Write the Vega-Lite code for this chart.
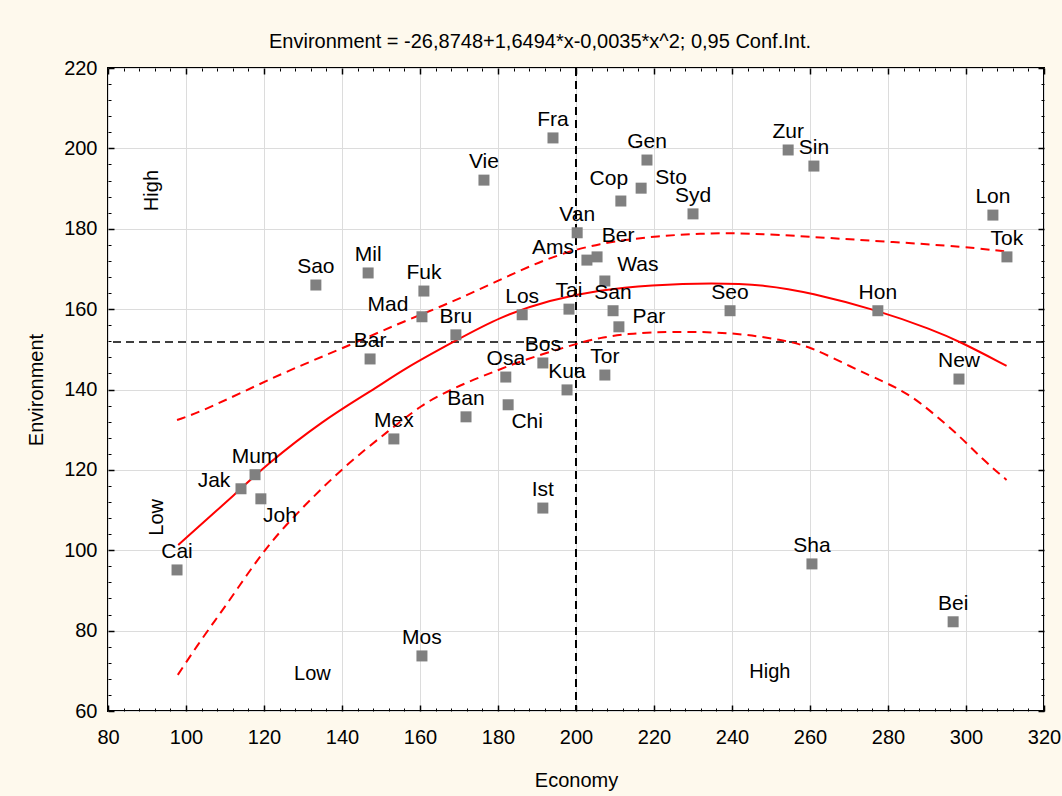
{
  "$schema": "https://vega.github.io/schema/vega-lite/v6.json",
  "width": 936,
  "height": 643,
  "autosize": "none",
  "padding": {"left": 108, "top": 68, "right": 18, "bottom": 85},
  "background": "#FEF9ED",
  "title": {
    "text": "Environment = -26,8748+1,6494*x-0,0035*x^2; 0,95 Conf.Int.",
    "font": "Liberation Sans",
    "fontSize": 20,
    "fontWeight": "normal",
    "color": "black",
    "anchor": "middle",
    "baseline": "alphabetic",
    "dx": -36,
    "dy": 30,
    "offset": 20
  },
  "config": {
    "view": {"fill": "white", "stroke": "black", "strokeWidth": 2},
    "axis": {
      "labelFont": "Liberation Sans",
      "labelFontSize": 20,
      "labelColor": "black",
      "titleFont": "Liberation Sans",
      "titleFontSize": 20,
      "titleFontWeight": "normal",
      "titleColor": "black",
      "domain": false,
      "tickColor": "black"
    },
    "text": {"font": "Liberation Sans", "fontSize": 21, "color": "black"}
  },
  "datasets": {
    "cities": [
      {"name": "Cai", "economy": 97.7, "environment": 95.1},
      {"name": "Jak", "economy": 114.1, "environment": 115.3},
      {"name": "Mum", "economy": 117.7, "environment": 118.8},
      {"name": "Joh", "economy": 119.2, "environment": 112.8},
      {"name": "Sao", "economy": 133.3, "environment": 166},
      {"name": "Mil", "economy": 146.7, "environment": 169},
      {"name": "Bar", "economy": 147.2, "environment": 147.6},
      {"name": "Mex", "economy": 153.3, "environment": 127.7},
      {"name": "Fuk", "economy": 161, "environment": 164.5},
      {"name": "Mad", "economy": 160.5, "environment": 158.1},
      {"name": "Mos", "economy": 160.5, "environment": 73.7},
      {"name": "Bru", "economy": 169.2, "environment": 153.6},
      {"name": "Ban", "economy": 171.8, "environment": 133.2},
      {"name": "Vie", "economy": 176.4, "environment": 192.1},
      {"name": "Osa", "economy": 182, "environment": 143.1},
      {"name": "Chi", "economy": 182.6, "environment": 136.2},
      {"name": "Los", "economy": 186.2, "environment": 158.6},
      {"name": "Fra", "economy": 194.1, "environment": 202.6},
      {"name": "Bos", "economy": 191.5, "environment": 146.6},
      {"name": "Ist", "economy": 191.5, "environment": 110.5},
      {"name": "Kua", "economy": 197.7, "environment": 139.9},
      {"name": "Tai", "economy": 198.2, "environment": 160},
      {"name": "Van", "economy": 200.3, "environment": 179},
      {"name": "Ams", "economy": 202.8, "environment": 172.2},
      {"name": "Ber", "economy": 205.4, "environment": 173},
      {"name": "Was", "economy": 207.4, "environment": 167},
      {"name": "Tor", "economy": 207.4, "environment": 143.6},
      {"name": "San", "economy": 209.5, "environment": 159.6},
      {"name": "Par", "economy": 211, "environment": 155.6},
      {"name": "Cop", "economy": 211.5, "environment": 186.9},
      {"name": "Sto", "economy": 216.7, "environment": 190.1},
      {"name": "Gen", "economy": 218.2, "environment": 197.1},
      {"name": "Syd", "economy": 230, "environment": 183.7},
      {"name": "Seo", "economy": 239.5, "environment": 159.6},
      {"name": "Zur", "economy": 254.4, "environment": 199.6},
      {"name": "Sin", "economy": 261, "environment": 195.6},
      {"name": "Sha", "economy": 260.5, "environment": 96.6},
      {"name": "Hon", "economy": 277.4, "environment": 159.6},
      {"name": "Bei", "economy": 296.7, "environment": 82.2},
      {"name": "New", "economy": 298.2, "environment": 142.6},
      {"name": "Lon", "economy": 306.9, "environment": 183.4},
      {"name": "Tok", "economy": 310.5, "environment": 173}
    ],
    "curves": [
      {"series": "fit", "economy": 98.0, "environment": 101.3},
      {"series": "fit", "economy": 113.8, "environment": 115.0},
      {"series": "fit", "economy": 119.8, "environment": 120.6},
      {"series": "fit", "economy": 135.2, "environment": 132.4},
      {"series": "fit", "economy": 148.0, "environment": 139.9},
      {"series": "fit", "economy": 156.0, "environment": 145.2},
      {"series": "fit", "economy": 169.4, "environment": 152.3},
      {"series": "fit", "economy": 180.5, "environment": 158.1},
      {"series": "fit", "economy": 193.3, "environment": 162.3},
      {"series": "fit", "economy": 206.2, "environment": 164.8},
      {"series": "fit", "economy": 219.0, "environment": 166.0},
      {"series": "fit", "economy": 235.0, "environment": 166.6},
      {"series": "fit", "economy": 248.9, "environment": 166.0},
      {"series": "fit", "economy": 260.0, "environment": 164.1},
      {"series": "fit", "economy": 277.1, "environment": 159.8},
      {"series": "fit", "economy": 291.6, "environment": 154.8},
      {"series": "fit", "economy": 298.5, "environment": 151.9},
      {"series": "fit", "economy": 310.4, "environment": 145.9},
      {"series": "upper", "economy": 97.7, "environment": 132.4},
      {"series": "upper", "economy": 103.6, "environment": 134.4},
      {"series": "upper", "economy": 114.6, "environment": 139.4},
      {"series": "upper", "economy": 126.7, "environment": 144.9},
      {"series": "upper", "economy": 140.3, "environment": 150.3},
      {"series": "upper", "economy": 154.9, "environment": 156.6},
      {"series": "upper", "economy": 167.7, "environment": 161.5},
      {"series": "upper", "economy": 180.5, "environment": 167.3},
      {"series": "upper", "economy": 193.3, "environment": 173.0},
      {"series": "upper", "economy": 206.2, "environment": 176.5},
      {"series": "upper", "economy": 219.0, "environment": 178.0},
      {"series": "upper", "economy": 231.8, "environment": 178.9},
      {"series": "upper", "economy": 245.0, "environment": 178.9},
      {"series": "upper", "economy": 260.0, "environment": 178.0},
      {"series": "upper", "economy": 279.7, "environment": 176.8},
      {"series": "upper", "economy": 300.2, "environment": 175.5},
      {"series": "upper", "economy": 310.4, "environment": 174.3},
      {"series": "lower", "economy": 97.9, "environment": 69.0},
      {"series": "lower", "economy": 104.4, "environment": 78.5},
      {"series": "lower", "economy": 109.5, "environment": 85.2},
      {"series": "lower", "economy": 115.6, "environment": 93.9},
      {"series": "lower", "economy": 121.5, "environment": 101.8},
      {"series": "lower", "economy": 128.5, "environment": 109.3},
      {"series": "lower", "economy": 140.3, "environment": 120.7},
      {"series": "lower", "economy": 152.3, "environment": 130.0},
      {"series": "lower", "economy": 160.8, "environment": 136.4},
      {"series": "lower", "economy": 166.0, "environment": 139.0},
      {"series": "lower", "economy": 172.0, "environment": 141.8},
      {"series": "lower", "economy": 179.0, "environment": 144.4},
      {"series": "lower", "economy": 185.0, "environment": 146.8},
      {"series": "lower", "economy": 197.6, "environment": 150.7},
      {"series": "lower", "economy": 206.2, "environment": 153.0},
      {"series": "lower", "economy": 214.7, "environment": 154.0},
      {"series": "lower", "economy": 223.3, "environment": 154.4},
      {"series": "lower", "economy": 239.5, "environment": 154.3},
      {"series": "lower", "economy": 253.2, "environment": 152.3},
      {"series": "lower", "economy": 260.0, "environment": 150.7},
      {"series": "lower", "economy": 270.3, "environment": 145.7},
      {"series": "lower", "economy": 279.7, "environment": 141.6},
      {"series": "lower", "economy": 285.6, "environment": 138.7},
      {"series": "lower", "economy": 291.6, "environment": 134.1},
      {"series": "lower", "economy": 298.5, "environment": 128.3},
      {"series": "lower", "economy": 304.4, "environment": 122.5},
      {"series": "lower", "economy": 310.4, "environment": 117.5}
    ],
    "quadrants": [
      {"label": "High", "economy": 91.2, "environment": 189.5, "dir": "vertical"},
      {"label": "Low", "economy": 92.5, "environment": 108.2, "dir": "vertical"},
      {"label": "Low", "economy": 132.4, "environment": 69.2, "dir": "horizontal"},
      {"label": "High", "economy": 249.7, "environment": 69.6, "dir": "horizontal"}
    ],
    "refs": [
      {"economy": 200, "environment": 151.8}
    ]
  },
  "resolve": {"axis": {"x": "independent", "y": "independent"}},
  "layer": [
    {
      "data": {"name": "cities"},
      "mark": {"type": "point", "opacity": 0},
      "encoding": {
        "x": {"field": "economy", "type": "quantitative",
          "scale": {"domain": [80, 320], "nice": false, "zero": false},
          "axis": {"orient": "bottom", "title": "Economy", "values": [80,100,120,140,160,180,200,220,240,260,280,300,320],
            "grid": true, "gridColor": "#DCDCDC", "gridWidth": 1, "tickSize": -6, "tickWidth": 1.5, "labelPadding": 22,
            "labelFlush": false, "titleY": 69, "titleBaseline": "middle"}},
        "y": {"field": "environment", "type": "quantitative",
          "scale": {"domain": [60, 220], "nice": false, "zero": false},
          "axis": {"orient": "left", "title": "Environment", "values": [60,80,100,120,140,160,180,200,220],
            "grid": true, "gridColor": "#DCDCDC", "gridWidth": 1, "tickSize": -6, "tickWidth": 1.5, "labelPadding": 17,
            "labelFlush": false, "titleX": -72, "titleBaseline": "middle"}}
      }
    },
    {
      "data": {"name": "cities"},
      "mark": {"type": "point", "opacity": 0},
      "encoding": {
        "x": {"field": "economy", "type": "quantitative",
          "axis": {"orient": "bottom", "title": null, "labels": false, "grid": false, "tickSize": -3, "tickWidth": 1,
            "values": [84,88,92,96,104,108,112,116,124,128,132,136,144,148,152,156,164,168,172,176,184,188,192,196,204,208,212,216,224,228,232,236,244,248,252,256,264,268,272,276,284,288,292,296,304,308,312,316]}},
        "y": {"field": "environment", "type": "quantitative",
          "axis": {"orient": "left", "title": null, "labels": false, "grid": false, "tickSize": -3, "tickWidth": 1,
            "values": [64,68,72,76,84,88,92,96,104,108,112,116,124,128,132,136,144,148,152,156,164,168,172,176,184,188,192,196,204,208,212,216]}}
      }
    },
    {
      "data": {"name": "cities"},
      "mark": {"type": "point", "opacity": 0},
      "encoding": {
        "x": {"field": "economy", "type": "quantitative",
          "axis": {"orient": "top", "title": null, "labels": false, "grid": false, "tickSize": -6, "tickWidth": 1.5,
            "values": [80,100,120,140,160,180,200,220,240,260,280,300,320]}},
        "y": {"field": "environment", "type": "quantitative",
          "axis": {"orient": "right", "title": null, "labels": false, "grid": false, "tickSize": -6, "tickWidth": 1.5,
            "values": [60,80,100,120,140,160,180,200,220]}}
      }
    },
    {
      "data": {"name": "cities"},
      "mark": {"type": "point", "opacity": 0},
      "encoding": {
        "x": {"field": "economy", "type": "quantitative",
          "axis": {"orient": "top", "title": null, "labels": false, "grid": false, "tickSize": -3, "tickWidth": 1,
            "values": [84,88,92,96,104,108,112,116,124,128,132,136,144,148,152,156,164,168,172,176,184,188,192,196,204,208,212,216,224,228,232,236,244,248,252,256,264,268,272,276,284,288,292,296,304,308,312,316]}},
        "y": {"field": "environment", "type": "quantitative",
          "axis": {"orient": "right", "title": null, "labels": false, "grid": false, "tickSize": -3, "tickWidth": 1,
            "values": [64,68,72,76,84,88,92,96,104,108,112,116,124,128,132,136,144,148,152,156,164,168,172,176,184,188,192,196,204,208,212,216]}}
      }
    },
    {
      "data": {"name": "refs"},
      "mark": {"type": "rule", "color": "black", "strokeWidth": 1.5, "strokeDash": [8, 5]},
      "encoding": {
        "y": {"field": "environment", "type": "quantitative", "axis": null}
      }
    },
    {
      "data": {"name": "refs"},
      "mark": {"type": "rule", "color": "black", "strokeWidth": 2, "strokeDash": [8, 5]},
      "encoding": {
        "x": {"field": "economy", "type": "quantitative", "axis": null}
      }
    },
    {
      "data": {"name": "curves"},
      "transform": [{"filter": "datum.series !== 'fit'"}],
      "mark": {"type": "line", "color": "#FF0000", "strokeWidth": 2, "strokeDash": [9, 6], "interpolate": "basis"},
      "encoding": {
        "x": {"field": "economy", "type": "quantitative", "axis": null},
        "y": {"field": "environment", "type": "quantitative", "axis": null},
        "detail": {"field": "series"}
      }
    },
    {
      "data": {"name": "curves"},
      "transform": [{"filter": "datum.series === 'fit'"}],
      "mark": {"type": "line", "color": "#FF0000", "strokeWidth": 2, "interpolate": "basis"},
      "encoding": {
        "x": {"field": "economy", "type": "quantitative", "axis": null},
        "y": {"field": "environment", "type": "quantitative", "axis": null}
      }
    },
    {
      "data": {"name": "cities"},
      "mark": {"type": "point", "shape": "square", "filled": true, "color": "#808080", "opacity": 1, "size": 121},
      "encoding": {
        "x": {"field": "economy", "type": "quantitative", "axis": null},
        "y": {"field": "environment", "type": "quantitative", "axis": null}
      }
    },
    {
      "data": {"name": "cities"},
      "transform": [{"filter": {"not": {"field": "name", "oneOf": ["Jak","Mad","Ams","Joh","Chi","Par","Sto","Was","Ber","Cop"]}}}],
      "mark": {"type": "text", "align": "center", "baseline": "middle", "dy": -18},
      "encoding": {
        "x": {"field": "economy", "type": "quantitative", "axis": null},
        "y": {"field": "environment", "type": "quantitative", "axis": null},
        "text": {"field": "name"}
      }
    },
    {
      "data": {"name": "cities"},
      "transform": [{"filter": {"field": "name", "oneOf": ["Jak"]}}],
      "mark": {"type": "text", "align": "center", "baseline": "middle", "dx": -27, "dy": -8},
      "encoding": {
        "x": {"field": "economy", "type": "quantitative", "axis": null},
        "y": {"field": "environment", "type": "quantitative", "axis": null},
        "text": {"field": "name"}
      }
    },
    {
      "data": {"name": "cities"},
      "transform": [{"filter": {"field": "name", "oneOf": ["Mad", "Ams"]}}],
      "mark": {"type": "text", "align": "center", "baseline": "middle", "dx": -34, "dy": -12},
      "encoding": {
        "x": {"field": "economy", "type": "quantitative", "axis": null},
        "y": {"field": "environment", "type": "quantitative", "axis": null},
        "text": {"field": "name"}
      }
    },
    {
      "data": {"name": "cities"},
      "transform": [{"filter": {"field": "name", "oneOf": ["Joh", "Chi"]}}],
      "mark": {"type": "text", "align": "center", "baseline": "middle", "dx": 19, "dy": 17},
      "encoding": {
        "x": {"field": "economy", "type": "quantitative", "axis": null},
        "y": {"field": "environment", "type": "quantitative", "axis": null},
        "text": {"field": "name"}
      }
    },
    {
      "data": {"name": "cities"},
      "transform": [{"filter": {"field": "name", "oneOf": ["Par", "Sto"]}}],
      "mark": {"type": "text", "align": "center", "baseline": "middle", "dx": 30, "dy": -10},
      "encoding": {
        "x": {"field": "economy", "type": "quantitative", "axis": null},
        "y": {"field": "environment", "type": "quantitative", "axis": null},
        "text": {"field": "name"}
      }
    },
    {
      "data": {"name": "cities"},
      "transform": [{"filter": {"field": "name", "oneOf": ["Was"]}}],
      "mark": {"type": "text", "align": "center", "baseline": "middle", "dx": 33, "dy": -16},
      "encoding": {
        "x": {"field": "economy", "type": "quantitative", "axis": null},
        "y": {"field": "environment", "type": "quantitative", "axis": null},
        "text": {"field": "name"}
      }
    },
    {
      "data": {"name": "cities"},
      "transform": [{"filter": {"field": "name", "oneOf": ["Ber"]}}],
      "mark": {"type": "text", "align": "center", "baseline": "middle", "dx": 21, "dy": -21},
      "encoding": {
        "x": {"field": "economy", "type": "quantitative", "axis": null},
        "y": {"field": "environment", "type": "quantitative", "axis": null},
        "text": {"field": "name"}
      }
    },
    {
      "data": {"name": "cities"},
      "transform": [{"filter": {"field": "name", "oneOf": ["Cop"]}}],
      "mark": {"type": "text", "align": "center", "baseline": "middle", "dx": -12, "dy": -22},
      "encoding": {
        "x": {"field": "economy", "type": "quantitative", "axis": null},
        "y": {"field": "environment", "type": "quantitative", "axis": null},
        "text": {"field": "name"}
      }
    },
    {
      "data": {"name": "quadrants"},
      "transform": [{"filter": "datum.dir === 'horizontal'"}],
      "mark": {"type": "text", "align": "center", "baseline": "middle", "fontSize": 20},
      "encoding": {
        "x": {"field": "economy", "type": "quantitative", "axis": null},
        "y": {"field": "environment", "type": "quantitative", "axis": null},
        "text": {"field": "label"}
      }
    },
    {
      "data": {"name": "quadrants"},
      "transform": [{"filter": "datum.dir === 'vertical'"}],
      "mark": {"type": "text", "align": "center", "baseline": "middle", "fontSize": 20, "angle": 270},
      "encoding": {
        "x": {"field": "economy", "type": "quantitative", "axis": null},
        "y": {"field": "environment", "type": "quantitative", "axis": null},
        "text": {"field": "label"}
      }
    }
  ]
}
